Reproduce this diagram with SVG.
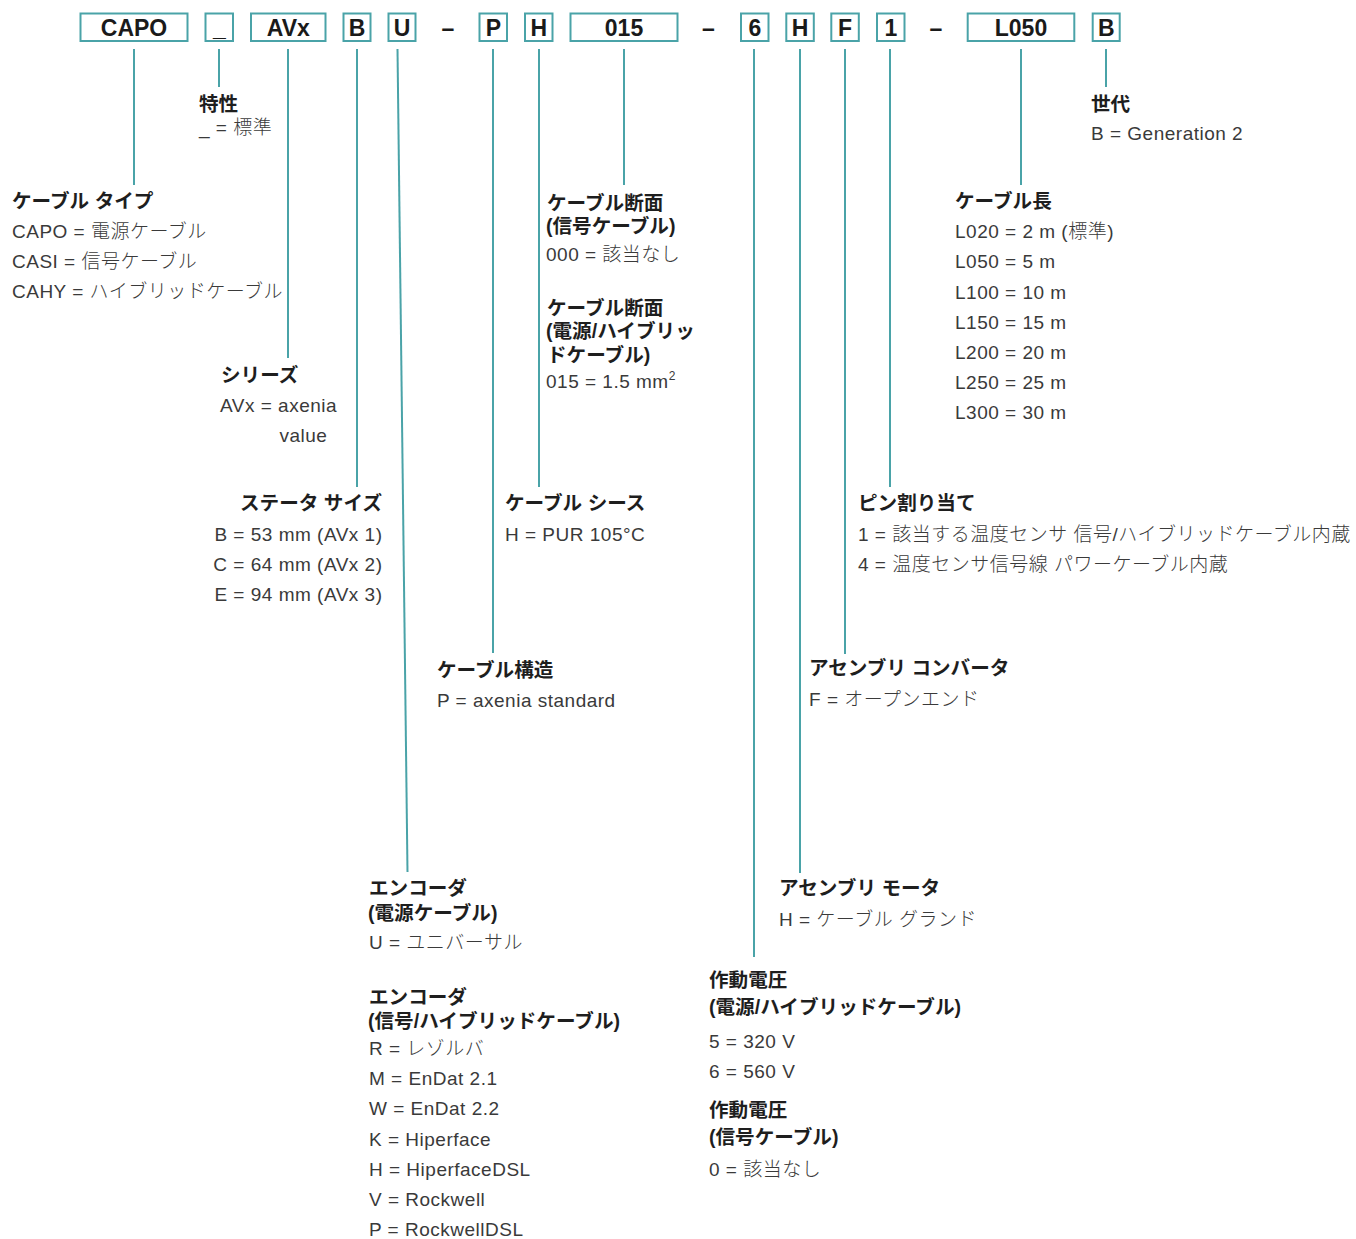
<svg xmlns="http://www.w3.org/2000/svg" width="1356" height="1239" viewBox="0 0 1356 1239">
<style>
.box rect{fill:#fff;stroke:#4aa3a8;stroke-width:2}
.code{font-family:"Liberation Sans",Arial,sans-serif;font-weight:bold;font-size:23px;fill:#1a1a1a;text-anchor:middle}
#connectors line{stroke:#4aa3a8;stroke-width:2;fill:none}
.h{font-family:"Liberation Sans","Noto Sans CJK JP",sans-serif;font-weight:bold;font-size:19.6px;fill:#1e1e1e}
.v{font-family:"Liberation Sans","Noto Sans CJK JP",sans-serif;font-weight:300;font-size:19px;fill:#3a3a3a;letter-spacing:0.5px}
.e{text-anchor:end}
</style>
<rect width="1356" height="1239" fill="#fff"/>

<g id="connectors">
<line x1="134" y1="49" x2="134" y2="185"/>
<line x1="219" y1="49" x2="219" y2="87"/>
<line x1="288" y1="49" x2="288" y2="358"/>
<line x1="357" y1="49" x2="357" y2="487"/>
<line x1="397.5" y1="49" x2="407.5" y2="872"/>
<line x1="493" y1="49" x2="493" y2="653"/>
<line x1="539" y1="49" x2="539" y2="487"/>
<line x1="624" y1="49" x2="624" y2="185"/>
<line x1="754" y1="49" x2="754" y2="957"/>
<line x1="800" y1="49" x2="800" y2="873"/>
<line x1="845" y1="49" x2="845" y2="654"/>
<line x1="890" y1="49" x2="890" y2="487"/>
<line x1="1021" y1="49" x2="1021" y2="185"/>
<line x1="1106" y1="49" x2="1106" y2="87"/>
</g>

<g id="codes">
<g id="code-capo" class="box"><rect x="80.5" y="13.5" width="107" height="27.5"/><text class="code" x="134" y="35.5">CAPO</text></g>
<g id="code-char" class="box"><rect x="205.5" y="13.5" width="27.5" height="27.5"/><text class="code" x="219.3" y="35.5">_</text></g>
<g id="code-avx" class="box"><rect x="251" y="13.5" width="74.5" height="27.5"/><text class="code" x="288.3" y="35.5">AVx</text></g>
<g id="code-b" class="box"><rect x="343.5" y="13.5" width="27" height="27.5"/><text class="code" x="357" y="35.5">B</text></g>
<g id="code-u" class="box"><rect x="388.5" y="13.5" width="27" height="27.5"/><text class="code" x="402" y="35.5">U</text></g>
<g id="code-p" class="box"><rect x="479.5" y="13.5" width="27.5" height="27.5"/><text class="code" x="493.3" y="35.5">P</text></g>
<g id="code-h1" class="box"><rect x="525" y="13.5" width="27.5" height="27.5"/><text class="code" x="538.8" y="35.5">H</text></g>
<g id="code-015" class="box"><rect x="570.5" y="13.5" width="107" height="27.5"/><text class="code" x="624" y="35.5">015</text></g>
<g id="code-6" class="box"><rect x="741" y="13.5" width="27.5" height="27.5"/><text class="code" x="754.8" y="35.5">6</text></g>
<g id="code-h2" class="box"><rect x="786.3" y="13.5" width="27.5" height="27.5"/><text class="code" x="800" y="35.5">H</text></g>
<g id="code-f" class="box"><rect x="831.3" y="13.5" width="27.5" height="27.5"/><text class="code" x="845" y="35.5">F</text></g>
<g id="code-1" class="box"><rect x="877" y="13.5" width="27.5" height="27.5"/><text class="code" x="890.8" y="35.5">1</text></g>
<g id="code-l050" class="box"><rect x="967.7" y="13.5" width="106.6" height="27.5"/><text class="code" x="1021" y="35.5">L050</text></g>
<g id="code-b2" class="box"><rect x="1092.7" y="13.5" width="27" height="27.5"/><text class="code" x="1106.2" y="35.5">B</text></g>
<g id="separators">
<text class="code" x="448" y="35.5">–</text>
<text class="code" x="708.5" y="35.5">–</text>
<text class="code" x="936" y="35.5">–</text>
</g>
</g>

<g id="desc-characteristic">
<text class="h" x="199" y="111">特性</text>
<text class="v" x="199" y="134">_ = 標準</text>
</g>
<g id="desc-cabletype">
<text class="h" x="12" y="208">ケーブル タイプ</text>
<text class="v" x="12" y="238">CAPO = 電源ケーブル</text>
<text class="v" x="12" y="268">CASI = 信号ケーブル</text>
<text class="v" x="12" y="298">CAHY = ハイブリッドケーブル</text>
</g>
<g id="desc-series">
<text class="h" x="221" y="382">シリーズ</text>
<text class="v" x="220" y="412">AVx = axenia</text>
<text class="v" x="279.5" y="442">value</text>
</g>
<g id="desc-stator">
<text class="h e" x="382" y="510">ステータ サイズ</text>
<text class="v e" x="382.5" y="541">B = 53 mm (AVx 1)</text>
<text class="v e" x="382.5" y="571">C = 64 mm (AVx 2)</text>
<text class="v e" x="382.5" y="601">E = 94 mm (AVx 3)</text>
</g>
<g id="desc-encoder-power">
<text class="h" x="369" y="895">エンコーダ</text>
<text class="h" x="368" y="920">(電源ケーブル)</text>
<text class="v" x="369" y="949">U = ユニバーサル</text>
</g>
<g id="desc-encoder-signal">
<text class="h" x="369" y="1004">エンコーダ</text>
<text class="h" x="368" y="1028">(信号/ハイブリッドケーブル)</text>
<text class="v" x="369" y="1055">R = レゾルバ</text>
<text class="v" x="369" y="1085">M = EnDat 2.1</text>
<text class="v" x="369" y="1115">W = EnDat 2.2</text>
<text class="v" x="369" y="1146">K = Hiperface</text>
<text class="v" x="369" y="1176">H = HiperfaceDSL</text>
<text class="v" x="369" y="1206">V = Rockwell</text>
<text class="v" x="369" y="1236">P = RockwellDSL</text>
</g>
<g id="desc-structure">
<text class="h" x="437" y="677">ケーブル構造</text>
<text class="v" x="437" y="707">P = axenia standard</text>
</g>
<g id="desc-sheath">
<text class="h" x="505" y="510">ケーブル シース</text>
<text class="v" x="505" y="541">H = PUR 105°C</text>
</g>
<g id="desc-section-signal">
<text class="h" x="547" y="210">ケーブル断面</text>
<text class="h" x="546" y="233">(信号ケーブル)</text>
<text class="v" x="546" y="261">000 = 該当なし</text>
</g>
<g id="desc-section-power">
<text class="h" x="547" y="315">ケーブル断面</text>
<text class="h" x="546" y="338">(電源/ハイブリッ</text>
<text class="h" x="547" y="362">ドケーブル)</text>
<text class="v" x="546" y="388">015 = 1.5 mm<tspan font-size="12" dy="-8">2</tspan></text>
</g>
<g id="desc-voltage-power">
<text class="h" x="709" y="987">作動電圧</text>
<text class="h" x="709" y="1014">(電源/ハイブリッドケーブル)</text>
<text class="v" x="709" y="1048">5 = 320 V</text>
<text class="v" x="709" y="1078">6 = 560 V</text>
</g>
<g id="desc-voltage-signal">
<text class="h" x="709" y="1117">作動電圧</text>
<text class="h" x="709" y="1144">(信号ケーブル)</text>
<text class="v" x="709" y="1176">0 = 該当なし</text>
</g>
<g id="desc-motor">
<text class="h" x="779" y="895">アセンブリ モータ</text>
<text class="v" x="779" y="926">H = ケーブル グランド</text>
</g>
<g id="desc-converter">
<text class="h" x="809" y="675">アセンブリ コンバータ</text>
<text class="v" x="809" y="706">F = オープンエンド</text>
</g>
<g id="desc-pin">
<text class="h" x="858" y="510">ピン割り当て</text>
<text class="v" x="858" y="541">1 = 該当する温度センサ 信号/ハイブリッドケーブル内蔵</text>
<text class="v" x="858" y="571">4 = 温度センサ信号線 パワーケーブル内蔵</text>
</g>
<g id="desc-length">
<text class="h" x="955" y="208">ケーブル長</text>
<text class="v" x="955" y="238">L020 = 2 m (標準)</text>
<text class="v" x="955" y="268">L050 = 5 m</text>
<text class="v" x="955" y="299">L100 = 10 m</text>
<text class="v" x="955" y="329">L150 = 15 m</text>
<text class="v" x="955" y="359">L200 = 20 m</text>
<text class="v" x="955" y="389">L250 = 25 m</text>
<text class="v" x="955" y="419">L300 = 30 m</text>
</g>
<g id="desc-generation">
<text class="h" x="1091" y="111">世代</text>
<text class="v" x="1091" y="140">B = Generation 2</text>
</g>
</svg>
